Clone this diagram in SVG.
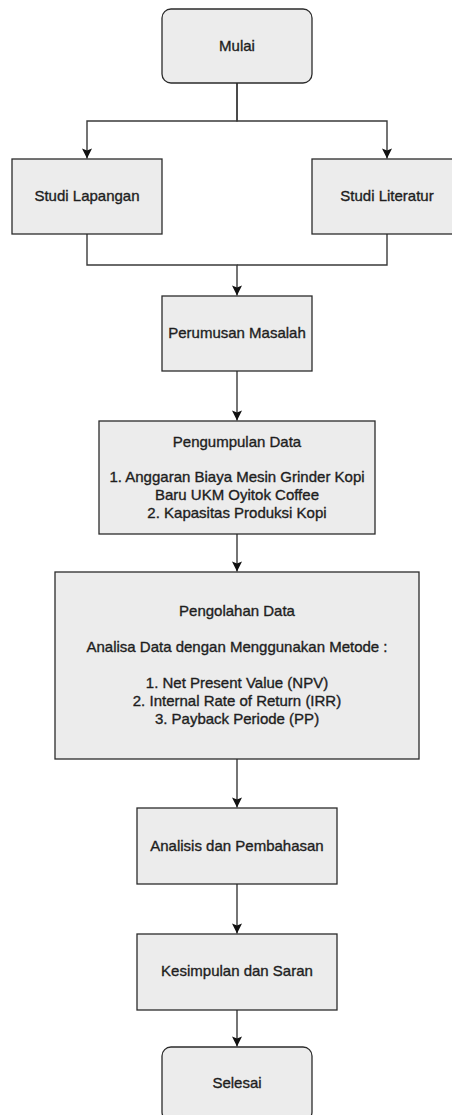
<svg xmlns="http://www.w3.org/2000/svg" width="452" height="1115" viewBox="0 0 452 1115">
<style>
.box{fill:#ececec;stroke:#2b2b2b;stroke-width:1.3}
.t{font-family:"Liberation Sans",Arial,sans-serif;font-size:15px;fill:#1e1e1e;stroke:#1e1e1e;stroke-width:0.35;text-anchor:middle}
.c{fill:none;stroke:#3a3a3a;stroke-width:1.4}
</style>
<defs>
<marker id="arr" markerUnits="userSpaceOnUse" markerWidth="12" markerHeight="12" viewBox="0 0 12 12" refX="11" refY="6" orient="auto">
<path d="M1,1 L11,6 L1,11 L3,6 z" fill="#111"/>
</marker>
</defs>
<rect width="452" height="1115" fill="#fff"/>
<g id="connectors">
<path class="c" d="M237,83 V121 H87 V158.5" marker-end="url(#arr)"/>
<path class="c" d="M237,83 V121 H387 V158.5" marker-end="url(#arr)"/>
<path class="c" d="M87,234 V265 H237 V295.5" marker-end="url(#arr)"/>
<path class="c" d="M387,234 V265 H237"/>
<path class="c" d="M237,371 V420.5" marker-end="url(#arr)"/>
<path class="c" d="M237,534 V571.5" marker-end="url(#arr)"/>
<path class="c" d="M237,759 V807.5" marker-end="url(#arr)"/>
<path class="c" d="M237,884 V933.5" marker-end="url(#arr)"/>
<path class="c" d="M237,1010 V1046.5" marker-end="url(#arr)"/>
</g>
<g id="mulai">
<rect class="box" x="162" y="9" width="150" height="74" rx="9"/>
<text class="t" x="237" y="51">Mulai</text>
</g>
<g id="studi-lapangan">
<rect class="box" x="12" y="159" width="150" height="75"/>
<text class="t" x="87" y="201">Studi Lapangan</text>
</g>
<g id="studi-literatur">
<rect class="box" x="312" y="159" width="150" height="75"/>
<text class="t" x="387" y="201">Studi Literatur</text>
</g>
<g id="perumusan">
<rect class="box" x="162" y="296" width="150" height="75"/>
<text class="t" x="237" y="338">Perumusan Masalah</text>
</g>
<g id="pengumpulan">
<rect class="box" x="99" y="421" width="276" height="113"/>
<text class="t" x="237" y="447">Pengumpulan Data</text>
<text class="t" x="237" y="482">1. Anggaran Biaya Mesin Grinder Kopi</text>
<text class="t" x="237" y="500">Baru UKM Oyitok Coffee</text>
<text class="t" x="237" y="518">2. Kapasitas Produksi Kopi</text>
</g>
<g id="pengolahan">
<rect class="box" x="55" y="572" width="364" height="187"/>
<text class="t" x="237" y="616">Pengolahan Data</text>
<text class="t" x="237" y="652">Analisa Data dengan Menggunakan Metode :</text>
<text class="t" x="237" y="688">1. Net Present Value (NPV)</text>
<text class="t" x="237" y="706">2. Internal Rate of Return (IRR)</text>
<text class="t" x="237" y="724">3. Payback Periode (PP)</text>
</g>
<g id="analisis">
<rect class="box" x="137" y="808" width="200" height="76"/>
<text class="t" x="237" y="851">Analisis dan Pembahasan</text>
</g>
<g id="kesimpulan">
<rect class="box" x="137" y="934" width="200" height="76"/>
<text class="t" x="237" y="976">Kesimpulan dan Saran</text>
</g>
<g id="selesai">
<rect class="box" x="162" y="1047" width="150" height="74" rx="9"/>
<text class="t" x="237" y="1088">Selesai</text>
</g>
</svg>
